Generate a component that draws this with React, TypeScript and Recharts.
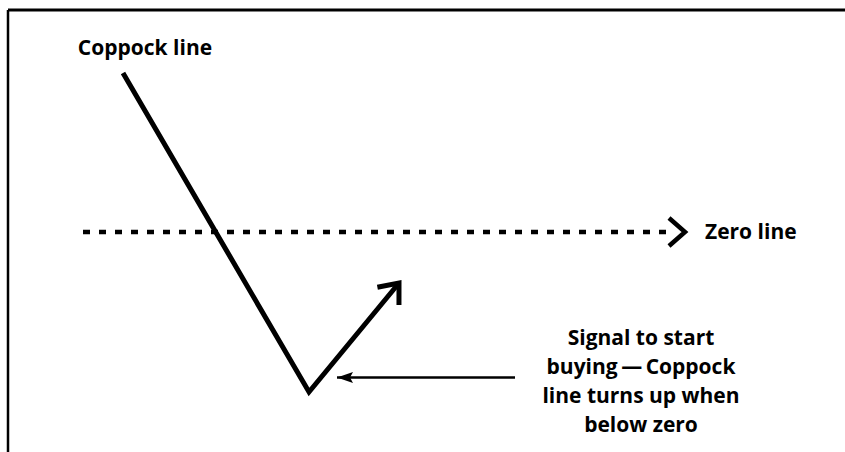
import { LineChart, Line, XAxis, YAxis, ReferenceDot, ReferenceLine } from "recharts";

// time runs left to right, indicator value up/down, zero line at 0
const coppockTime = [11.5, 30.1, 39.1];
const coppockValue = [15.9, -16.0, -5.1];

const zeroTime = [7.5, 65.8];
const zeroValue = [0, 0];

const pointerTime = [50.7, 32.9];
const pointerValue = [-14.55, -14.55];

const titleLabel = "Coppock line";
const zeroLabel = "Zero line";
const signalLabel = ["Signal to start", "buying\u2009\u2014\u2009Coppock", "line turns up when", "below zero"];

const coppock = coppockTime.map((t, i) => ({ t, v: coppockValue[i] }));
const zero = zeroTime.map((t, i) => ({ t, v: zeroValue[i] }));
const pointer = pointerTime.map((t, i) => ({ t, v: pointerValue[i] }));

const xDomain = [0, 83.7];
const yDomain = [-22, 22.2];

const font = "'Open Sans', sans-serif";

const NoteLabel = (props: any) => {
	const { viewBox, lines, anchor } = props;
	return (
		<text x={viewBox.x} y={viewBox.y} textAnchor={anchor} fontFamily={font} fontWeight={700} fontSize={21} fill="#000">
			{lines.map((l: string, i: number) => (
				<tspan key={i} x={viewBox.x} dy={i === 0 ? 0 : 29}>{l}</tspan>
			))}
		</text>
	);
};

const App = () => {
	return (
		<div style={{ position: "absolute", left: 0, top: 0, background: "#fff" }}>
			<LineChart width={845} height={452} margin={{ top: 10, right: 0, bottom: 0, left: 8 }}>
				<defs>
					<marker id="chevron" viewBox="-24 -18 30 36" refX={-19} refY={0} markerWidth={30} markerHeight={36} markerUnits="userSpaceOnUse" orient="auto" style={{ overflow: "visible" }}>
						<path d="M -16 -14 L 0 0 L -16 14" fill="none" stroke="#000" strokeWidth={4.5} strokeDasharray="none" />
					</marker>
					<marker id="chevronTip" viewBox="-24 -18 30 36" refX={0} refY={0} markerWidth={30} markerHeight={36} markerUnits="userSpaceOnUse" orient="auto" style={{ overflow: "visible" }}>
						<path d="M -17 -14 L 0 0 L -17 14" fill="none" stroke="#000" strokeWidth={5} strokeDasharray="none" />
					</marker>
					<marker id="triangle" viewBox="-18 -7 20 14" refX={0} refY={0} markerWidth={20} markerHeight={14} markerUnits="userSpaceOnUse" orient="auto" style={{ overflow: "visible" }}>
						<path d="M -16 -5.5 L 0 0 L -16 5.5 L -13 0 Z" fill="#000" stroke="none" />
					</marker>
				</defs>
				<XAxis type="number" dataKey="t" domain={xDomain} orientation="top" height={0} tick={false} tickLine={false} axisLine={false} allowDataOverflow />
				<YAxis type="number" domain={yDomain} width={0} tick={false} tickLine={false} axisLine={false} allowDataOverflow />
				<ReferenceLine y={yDomain[1]} stroke="#000" strokeWidth={3} ifOverflow="visible" />
				<ReferenceLine x={xDomain[0]} stroke="#000" strokeWidth={2.5} ifOverflow="visible" />
				<Line data={zero} dataKey="v" type="linear" stroke="#000" strokeWidth={4.5} strokeDasharray="7 9" dot={false} activeDot={false} markerEnd="url(#chevron)" isAnimationActive={false} />
				<Line data={coppock} dataKey="v" type="linear" stroke="#000" strokeWidth={5} dot={false} activeDot={false} markerEnd="url(#chevronTip)" isAnimationActive={false} />
				<Line data={pointer} dataKey="v" type="linear" stroke="#000" strokeWidth={2.5} dot={false} activeDot={false} markerEnd="url(#triangle)" isAnimationActive={false} />
				<ReferenceDot x={13.7} y={17.7} r={0} fill="none" stroke="none" label={<NoteLabel lines={[titleLabel]} anchor="middle" />} />
				<ReferenceDot x={69.7} y={-0.7} r={0} fill="none" stroke="none" label={<NoteLabel lines={[zeroLabel]} anchor="start" />} />
				<ReferenceDot x={63.3} y={-11.3} r={0} fill="none" stroke="none" label={<NoteLabel lines={signalLabel} anchor="middle" />} />
			</LineChart>
		</div>
	);
};

export default App;
